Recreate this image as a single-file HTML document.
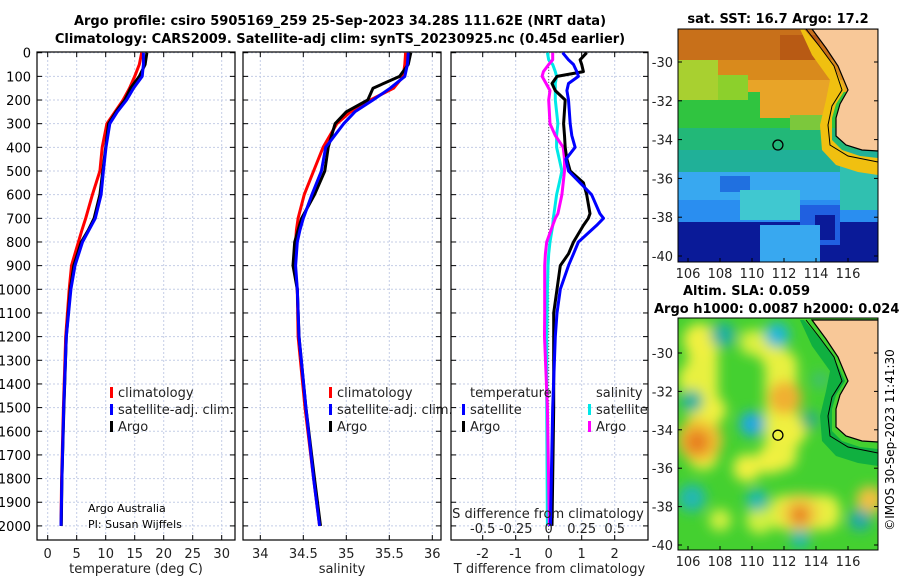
<!DOCTYPE html>
<html><head><meta charset="utf-8"><style>
body{margin:0;background:#fff}
svg{display:block;font-family:"DejaVu Sans","Liberation Sans",sans-serif}
</style></head><body>
<svg id="fig" width="900" height="580" viewBox="0 0 900 580" xmlns="http://www.w3.org/2000/svg">
<defs>
<filter id="blur" x="-50%" y="-50%" width="200%" height="200%"><feGaussianBlur stdDeviation="6"/></filter>
<clipPath id="clipM1"><rect x="678" y="29" width="200" height="233"/></clipPath>
<clipPath id="clipM2"><rect x="678" y="318" width="200" height="232"/></clipPath>
</defs>
<g font-weight="bold" font-size="13" text-anchor="middle" fill="#000">
<text x="340" y="25">Argo profile: csiro 5905169_259 25-Sep-2023 34.28S 111.62E (NRT data)</text>
<text x="340" y="43">Climatology: CARS2009. Satellite-adj clim: synTS_20230925.nc (0.45d earlier)</text>
</g>
<g id="panels"></g>
<g id="maps"></g>
<text x="0" y="0" font-size="12" transform="translate(894,440) rotate(-90)" text-anchor="middle">©IMOS 30-Sep-2023 11:41:30</text>
</svg>
<script>
// ---- data ----
const depthT = [0,50,100,150,200,250,300,400,500,600,700,750,800,900,1000,1200,1500,1800,2000];
const tempClim = [16.2,15.8,15.0,14.1,13.0,11.6,10.2,9.4,9.0,7.7,6.55,5.9,5.3,4.1,3.7,3.1,2.7,2.4,2.3];
const tempSat  = [16.5,16.5,16.3,14.8,13.6,12.0,10.7,10.05,9.6,9.2,8.2,7.1,6.0,4.7,4.0,3.2,2.75,2.45,2.3];
const tempArgo = [17.1,16.8,15.8,14.3,13.3,11.8,10.5,10.0,9.5,9.0,8.0,7.0,5.8,4.5,3.9,3.2,2.8,2.45,2.35];
const salClim = [35.69,35.68,35.66,35.55,35.28,35.05,34.89,34.73,34.62,34.51,34.44,34.42,34.41,34.40,34.43,34.44,34.52,34.62,34.69];
const salSat  = [35.72,35.71,35.68,35.51,35.31,35.10,34.97,34.76,34.71,34.60,34.50,34.46,34.43,34.41,34.43,34.45,34.53,34.62,34.69];
const salArgo = [35.75,35.72,35.62,35.31,35.25,35.0,34.87,34.79,34.75,34.63,34.48,34.44,34.40,34.38,34.43,34.45,34.53,34.63,34.70];
const depthD = [0,30,50,80,100,130,160,200,300,350,400,450,500,550,600,680,700,730,800,850,900,1000,1100,1200,1500,2000];
const dTsat  = [0.42,0.6,0.75,0.85,0.9,0.6,0.55,0.6,0.65,0.7,0.8,0.52,0.6,0.95,1.3,1.55,1.66,1.45,0.9,0.75,0.6,0.35,0.25,0.2,0.12,0.05];
const dTargo = [1.15,0.95,1.0,1.05,0.25,0.1,0.2,0.5,0.45,0.48,0.5,0.55,0.65,1.05,1.15,1.25,1.2,1.05,0.75,0.6,0.35,0.25,0.15,0.15,0.15,0.1];
const dSsat  = [-0.01,0.0,0.03,0.05,0.06,0.05,0.05,0.05,0.07,0.06,0.06,0.08,0.1,0.08,0.06,0.04,0.035,0.03,0.01,0.0,-0.005,-0.01,-0.012,-0.015,-0.015,-0.01];
const dSargo = [0.03,0.03,0.0,-0.04,-0.05,-0.02,0.01,0.0,0.01,0.05,0.11,0.12,0.12,0.11,0.1,0.07,0.05,0.03,-0.015,-0.025,-0.03,-0.03,-0.03,-0.032,-0.01,0.005];
const depthTicks = [0,100,200,300,400,500,600,700,800,900,1000,1100,1200,1300,1400,1500,1600,1700,1800,1900,2000];
const tempTicks = [0,5,10,15,20,25,30];
const salTicks = [34,34.5,35,35.5,36];
const dTTicks = [-2,-1,0,1,2];
const dSTicks = [-0.5,-0.25,0,0.25,0.5];
const dSLabels = ["-0.5","-0.25","0","0.25","0.5"];
const latTicks = [-30,-32,-34,-36,-38,-40];
const lonTicks = [106,108,110,112,114,116];
const argoLon = 111.62, argoLat = -34.28;

// ---- scales ----
const NS='http://www.w3.org/2000/svg';
const yD = d => 52.7 + 0.2366*d;
const xT = t => 47.7 + 5.8*t;
const xS = s => 260.3 + 86*(s-34);
const xDT = v => 548.7 + 33*v;
const xDS = v => 548.7 + 132*v;
const lonX = lo => 688 + 16*(lo-106);
const latY1 = la => 62 + 19.4*(-30-la);
const latY2 = la => 353 + 19.2*(-30-la);

function el(tag, attrs, parent, txt){
  const e=document.createElementNS(NS,tag);
  for(const k in attrs) e.setAttribute(k,attrs[k]);
  if(txt!==undefined) e.textContent=txt;
  parent.appendChild(e); return e;
}
const P=document.getElementById('panels');

function panel(name,x0,x1,xticks,xf,xlabels,xtitle,showY){
  const g=el('g',{},P);
  
  
  const y0=52,y1=540;
  for(const d of depthTicks){
    const y=yD(d);
    const gl=el('line',{x1:x0,x2:x1,y1:y,y2:y,stroke:'#c4cde6','stroke-width':1,'stroke-dasharray':'2,2'},g);
    
    
    el('line',{x1:x0,x2:x0+5,y1:y,y2:y,stroke:'#000'},g);
    el('line',{x1:x1-5,x2:x1,y1:y,y2:y,stroke:'#000'},g);
    if(showY){
      const t=el('text',{x:31,y:y+5,'font-size':13,'text-anchor':'end'},g,String(d));
      
      
    }
  }
  xticks.forEach((v,i)=>{
    const x=xf(v);
    const gl=el('line',{x1:x,x2:x,y1:y0,y2:y1,stroke:'#c4cde6','stroke-width':1,'stroke-dasharray':'2,2'},g);
    
    
    el('line',{x1:x,x2:x,y1:y1-5,y2:y1,stroke:'#000'},g);
    el('line',{x1:x,x2:x,y1:y0,y2:y0+5,stroke:'#000'},g);
    const t=el('text',{x:x,y:558,'font-size':13,'text-anchor':'middle',fill:'#222'},g,xlabels[i]);
    
    
  });
  const ax=el('rect',{x:x0,y:y0,width:x1-x0,height:y1-y0,fill:'none',stroke:'#000','stroke-width':1.2},g);
  
  
  const xt=el('text',{x:(x0+x1)/2,y:573,'font-size':13,'text-anchor':'middle',fill:'#222'},g,xtitle);
  
  
  return g;
}
function line(g,name,xs,ds,xf,color){
  const pts=xs.map((v,i)=>xf(v).toFixed(1)+','+yD(ds[i]).toFixed(1)).join(' ');
  const p=el('polyline',{points:pts,fill:'none',stroke:color,'stroke-width':3,'stroke-linejoin':'round'},g);
  
  
}
function legend(g,name,x,y,color,label){
  const lg=el('g',{},g);
  
  
  el('rect',{x:x,y:y-10,width:3,height:11,fill:color},lg);
  el('text',{x:x+8,y:y,'font-size':13,fill:'#222'},lg,label);
}

const g1=panel('temperature-panel',37,235,tempTicks,xT,tempTicks.map(String),'temperature (deg C)',true);
line(g1,'temp-climatology-line',tempClim,depthT,xT,'#ff0000');
line(g1,'temp-argo-line',tempArgo,depthT,xT,'#000000');
line(g1,'temp-satellite-line',tempSat,depthT,xT,'#0000ff');
legend(g1,'legend-climatology',110,397,'#ff0000','climatology');
legend(g1,'legend-satellite-adj',110,414,'#0000ff','satellite-adj. clim.');
legend(g1,'legend-argo',110,431,'#000','Argo');
const t1=el('text',{x:88,y:512,'font-size':11},g1,'Argo Australia');


const t2=el('text',{x:88,y:528,'font-size':11},g1,'PI: Susan Wijffels');



const g2=panel('salinity-panel',243,441,salTicks,xS,salTicks.map(String),'salinity',false);
line(g2,'sal-climatology-line',salClim,depthT,xS,'#ff0000');
line(g2,'sal-argo-line',salArgo,depthT,xS,'#000000');
line(g2,'sal-satellite-line',salSat,depthT,xS,'#0000ff');
legend(g2,'legend-climatology-s',329,397,'#ff0000','climatology');
legend(g2,'legend-satellite-adj-s',329,414,'#0000ff','satellite-adj. clim.');
legend(g2,'legend-argo-s',329,431,'#000','Argo');

const g3=panel('difference-panel',451,648,dTTicks,xDT,dTTicks.map(String),'T difference from climatology',false);
el('line',{x1:xDT(0),x2:xDT(0),y1:52,y2:540,stroke:'#555','stroke-dasharray':'1,2'},g3);
line(g3,'dS-satellite-line',dSsat,depthD,xDS,'#00e8e8');
line(g3,'dS-argo-line',dSargo,depthD,xDS,'#ff00ff');
line(g3,'dT-argo-line',dTargo,depthD,xDT,'#000000');
line(g3,'dT-satellite-line',dTsat,depthD,xDT,'#0000ff');
el('text',{x:470,y:397,'font-size':13,fill:'#222'},g3,'temperature');
el('text',{x:596,y:397,'font-size':13,fill:'#222'},g3,'salinity');
legend(g3,'legend-t-satellite',462,414,'#0000ff','satellite');
legend(g3,'legend-t-argo',462,431,'#000','Argo');
legend(g3,'legend-s-satellite',588,414,'#00e8e8','satellite');
legend(g3,'legend-s-argo',588,431,'#ff00ff','Argo');
const st=el('text',{x:548,y:518,'font-size':13,'text-anchor':'middle',fill:'#222'},g3,'S difference from climatology');


dSTicks.forEach((v,i)=>{
  const t=el('text',{x:xDS(v),y:533,'font-size':13,'text-anchor':'middle',fill:'#222'},g3,dSLabels[i]);
  
  
});

// ---- maps ----
const M=document.getElementById('maps');
function mapAxes(g,top,bottom,latY){
  for(const la of latTicks){
    const y=latY(la);
    el('line',{x1:678,x2:682,y1:y,y2:y,stroke:'#000'},g);
    el('line',{x1:874,x2:878,y1:y,y2:y,stroke:'#000'},g);
    const t=el('text',{x:673,y:y+5,'font-size':13,'text-anchor':'end',fill:'#222'},g,String(la));
    
    
  }
  for(const lo of lonTicks){
    const x=lonX(lo);
    el('line',{x1:x,x2:x,y1:bottom-4,y2:bottom,stroke:'#000'},g);
    const t=el('text',{x:x,y:bottom+16,'font-size':13,'text-anchor':'middle',fill:'#222'},g,String(lo));
    
    
  }
  el('rect',{x:678,y:top,width:200,height:bottom-top,fill:'none',stroke:'#000'},g);
}
function land(g,dy,shelf){
  const sh=el('path',{d:`M804,${29+dy} L818,${45+dy} L832,${62+dy} L845,${90+dy} L836,${104+dy} L832,${118+dy} L832,${140+dy} L842,${150+dy} L860,${156+dy} L878,${158+dy} L878,${175+dy} L858,${172+dy} L836,${165+dy} L822,${150+dy} L820,${125+dy} L826,${100+dy} L830,${80+dy} L812,${55+dy} L800,${29+dy} Z`,fill:shelf},g);
  
  
  const ld=el('path',{d:`M812,${29+dy} L826,${48+dy} L838,${66+dy} L848,${90+dy} L840,${104+dy} L836,${118+dy} L836,${136+dy} L846,${145+dy} L862,${150+dy} L878,${151+dy} L878,${29+dy} Z`,fill:'#f8c898',stroke:'#000','stroke-width':1.2},g);
  
  
  el('path',{d:`M806,${29+dy} L820,${47+dy} L834,${66+dy} L842,${90+dy} L832,${106+dy} L828,${125+dy} L830,${145+dy} L848,${156+dy} L878,${162+dy}`,fill:'none',stroke:'#000','stroke-width':1},g);
}
// SST map
const m1=el('g',{'clip-path':'url(#clipM1)'},M);


const sstBands=[
 [29,262,'#2ecb44'],[29,95,'#e8a428'],[29,80,'#d98a1c'],[29,60,'#c8701a'],
 [92,128,'#30c440'],[128,150,'#22b878'],[150,172,'#20b098'],[172,200,'#38a8f0'],[200,222,'#2a8ef0'],[222,262,'#0a1a98']];
for(const b of sstBands){ el('rect',{x:678,y:b[0],width:200,height:b[1]-b[0],fill:b[2]},m1); }
el('rect',{x:678,y:60,width:40,height:40,fill:'#a8d030'},m1);
el('rect',{x:718,y:75,width:30,height:25,fill:'#8cd02c'},m1);
el('rect',{x:760,y:90,width:70,height:28,fill:'#e8a428'},m1);
el('rect',{x:790,y:115,width:40,height:15,fill:'#7cc83c'},m1);
el('rect',{x:780,y:35,width:40,height:25,fill:'#b85a14'},m1);
el('rect',{x:720,y:176,width:30,height:16,fill:'#2070e0'},m1);
el('rect',{x:800,y:205,width:40,height:40,fill:'#2060e0'},m1);
el('rect',{x:815,y:215,width:20,height:25,fill:'#0a1a98'},m1);
el('rect',{x:760,y:225,width:60,height:37,fill:'#38a8f0'},m1);
el('rect',{x:840,y:165,width:38,height:45,fill:'#30c0b0'},m1);
el('rect',{x:740,y:190,width:60,height:30,fill:'#40c8d0'},m1);
el('rect',{x:840,y:250,width:38,height:12,fill:'#0a1a98'},m1);
land(m1,0,'#f0c010');
const c1=el('circle',{cx:lonX(argoLon),cy:latY1(argoLat),r:5,fill:'none',stroke:'#000','stroke-width':1.3},M);


mapAxes(M,29,262,latY1);
const mt1=el('text',{x:778,y:23,'font-size':13,'font-weight':'bold','text-anchor':'middle'},M,'sat. SST: 16.7 Argo: 17.2');



// SLA map
const m2=el('g',{'clip-path':'url(#clipM2)'},M);


el('rect',{x:678,y:318,width:200,height:232,fill:'#44d030'},m2);
const bl=el('g',{filter:'url(#blur)'},m2);
// yellow bands
el('rect',{x:688,y:335,width:30,height:135,rx:14,fill:'#e8f040'},bl);
el('rect',{x:765,y:350,width:32,height:120,rx:14,fill:'#e8f040'},bl);
el('rect',{x:740,y:330,width:30,height:25,rx:10,fill:'#d8f040'},bl);
el('rect',{x:770,y:495,width:70,height:35,rx:14,fill:'#e8f040'},bl);
const blobs=[
 [700,340,12,'#f0f040'],[698,380,14,'#e8f040'],[700,440,16,'#f0c030'],[697,442,9,'#e88020'],[712,410,10,'#f0f040'],
 [770,350,10,'#e8f040'],[785,398,12,'#f0b030'],[790,430,12,'#f0f040'],[770,460,10,'#f0f040'],[747,468,10,'#f0f040'],
 [800,513,14,'#f0d040'],[800,515,7,'#e88020'],[760,520,10,'#d0f040'],[870,500,10,'#f0c040'],[720,520,8,'#d0f040'],
 [777,335,9,'#20b8d8'],[723,335,9,'#20b0a0'],[692,401,8,'#20b0a0'],[752,424,9,'#20a8e0'],[692,498,10,'#20b8b0'],
 [757,500,8,'#20b8b0'],[800,539,7,'#20b8b0'],[860,520,8,'#20a8a8'],[810,420,7,'#30b080'],[820,380,6,'#40c070']];
for(const b of blobs){ el('circle',{cx:b[0],cy:b[1],r:b[2]*1.4,fill:b[3]},bl); }
land(m2,291,'#10b040');
const c2=el('circle',{cx:lonX(argoLon),cy:latY2(argoLat),r:5,fill:'none',stroke:'#000','stroke-width':1.3},M);


mapAxes(M,318,550,latY2);
const mt2=el('text',{x:683,y:295,'font-size':13,'font-weight':'bold'},M,'Altim. SLA: 0.059');


const mt3=el('text',{x:654,y:313,'font-size':13,'font-weight':'bold'},M,'Argo h1000: 0.0087 h2000: 0.024');


</script>
</body></html>
